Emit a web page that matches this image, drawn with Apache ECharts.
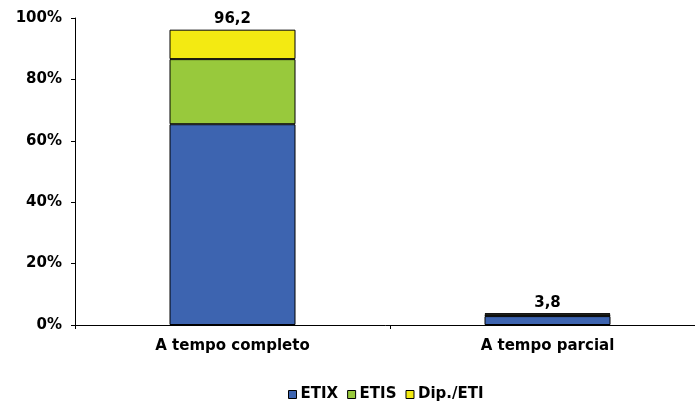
<!DOCTYPE html>
<html>
<head>
<meta charset="utf-8">
<script src="https://cdn.jsdelivr.net/npm/echarts@6/dist/echarts.min.js"></script>
<style>html,body{margin:0;padding:0;background:#fff}#c{width:695px;height:404px}</style>
</head>
<body>
<div id="c"></div>
<script>
const categories = ['A tempo completo', 'A tempo parcial'];
const seriesNames = ['ETIX', 'ETIS', 'Dip./ETI'];
const etix = [65.4, 2.9];
const etis = [21.2, 0.6];
const dip = [9.6, 0.3];
const totals = ['96,2', '3,8'];
const yTicks = [0, 20, 40, 60, 80, 100];

const colors = ['#3D64B0', '#98C93C', '#F3EA12'];
const font = 'DejaVu Sans';
const dataSets = [etix, etis, dip];

const series = seriesNames.map((name, i) => ({
  name: name,
  type: 'bar',
  stack: 'total',
  barWidth: 126,
  data: dataSets[i],
  itemStyle: { color: colors[i], borderColor: '#000', borderWidth: 1 },
  label: i === 2 ? {
    show: true,
    position: 'top',
    distance: 3,
    formatter: p => totals[p.dataIndex],
    fontFamily: font, fontWeight: 'bold', fontSize: 15, color: '#000'
  } : { show: false }
}));

const chart = echarts.init(document.getElementById('c'), null, { renderer: 'canvas' });
chart.setOption({
  animation: false,
  backgroundColor: '#fff',
  color: colors,
  grid: { left: 75, width: 630, top: 18, bottom: 79, containLabel: false, outerBoundsMode: 'none' },
  legend: {
    top: 382,
    left: 283,
    itemWidth: 8, itemHeight: 8, itemGap: 9,
    icon: 'rect',
    textStyle: { fontFamily: font, fontWeight: 'bold', fontSize: 15, color: '#000', padding: [0, 0, 0, -1] },
    data: seriesNames.map(n => ({ name: n, itemStyle: { borderColor: '#000', borderWidth: 1 } }))
  },
  xAxis: {
    type: 'category',
    data: categories,
    axisLine: { lineStyle: { color: '#000', width: 1 } },
    axisTick: { show: true, alignWithLabel: false, length: 4, inside: false, lineStyle: { color: '#000' } },
    axisLabel: { fontFamily: font, fontWeight: 'bold', fontSize: 15, color: '#000', margin: 14 }
  },
  yAxis: {
    type: 'value',
    min: yTicks[0], max: yTicks[yTicks.length - 1], interval: 20,
    splitLine: { show: false },
    axisLine: { show: true, lineStyle: { color: '#000', width: 1 } },
    axisTick: { show: true, length: 4, lineStyle: { color: '#000' } },
    axisLabel: { formatter: '{value}%', fontFamily: font, fontWeight: 'bold', fontSize: 15, color: '#000', margin: 13 }
  },
  series: series
});
</script>
</body>
</html>
